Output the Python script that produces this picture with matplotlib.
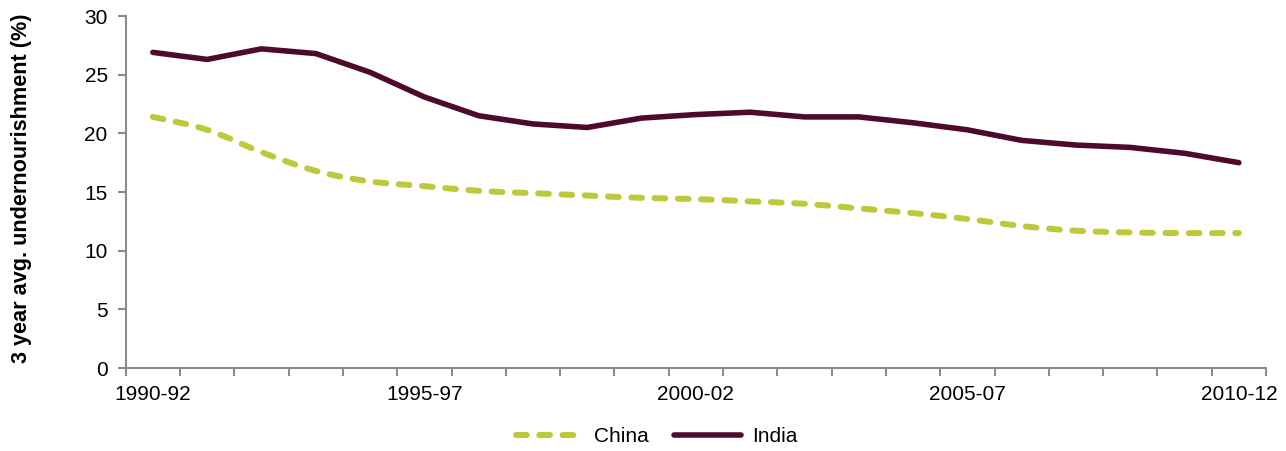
import numpy as np
import matplotlib
matplotlib.use("Agg")
import matplotlib.pyplot as plt
from matplotlib.path import Path
from matplotlib.patches import PathPatch
from matplotlib.lines import Line2D

plt.rcParams['font.family'] = ['Liberation Sans', 'DejaVu Sans']

periods = ["1990-92", "1991-93", "1992-94", "1993-95", "1994-96", "1995-97",
           "1996-98", "1997-99", "1998-00", "1999-01", "2000-02", "2001-03",
           "2002-04", "2003-05", "2004-06", "2005-07", "2006-08", "2007-09",
           "2008-10", "2009-11", "2010-12"]
china = [21.4, 20.3, 18.4, 16.8, 15.9, 15.5, 15.1, 14.9, 14.7, 14.5, 14.4,
         14.2, 14.0, 13.6, 13.2, 12.7, 12.1, 11.7, 11.55, 11.5, 11.5]
india = [26.9, 26.3, 27.2, 26.8, 25.2, 23.1, 21.5, 20.8, 20.5, 21.3, 21.6,
         21.8, 21.4, 21.4, 20.9, 20.3, 19.4, 19.0, 18.8, 18.3, 17.5]
labelled = ["1990-92", "1995-97", "2000-02", "2005-07", "2010-12"]
yticks = [0, 5, 10, 15, 20, 25, 30]

china_color = "#BDC83A"
india_color = "#4D0A2B"
axis_gray = "#8C8C8C"
fs = 15.0


def smooth_path(xs, ys):
    """Cubic Bezier path through the points (Catmull-Rom style smoothing)."""
    pts = np.column_stack([xs, ys]).astype(float)
    n = len(pts)
    verts = [pts[0]]
    codes = [Path.MOVETO]
    for i in range(n - 1):
        p0 = pts[i - 1] if i > 0 else pts[i]
        p1 = pts[i]
        p2 = pts[i + 1]
        p3 = pts[i + 2] if i + 2 < n else pts[i + 1]
        c1 = p1 + (p2 - p0) / 6.0
        c2 = p2 - (p3 - p1) / 6.0
        verts += [c1, c2, p2]
        codes += [Path.CURVE4] * 3
    return Path(verts, codes)


fig = plt.figure(figsize=(12.86, 4.51), dpi=100)
ax = fig.add_axes([125.7 / 1286, 1 - 368 / 451, (1266 - 125.7) / 1286, (368 - 16) / 451])

x = np.arange(len(periods))

# China: smoothed dashed line
china_patch = PathPatch(smooth_path(x, china), facecolor="none", edgecolor=china_color,
                        linewidth=4.3, linestyle=(0, (1.8, 2.1)), capstyle="round",
                        joinstyle="round")
ax.add_patch(china_patch)

# India: solid line
ax.plot(x, india, color=india_color, linewidth=4.0, solid_capstyle="round",
        solid_joinstyle="round")

ax.set_xlim(-0.5, len(periods) - 0.5)
ax.set_ylim(0, 30)
ax.set_yticks(yticks)
ax.set_yticklabels([str(v) for v in yticks])

# category boundary ticks with labels every five periods
ax.set_xticks(np.arange(-0.5, len(periods), 1.0), minor=True)
major_pos = [periods.index(p) for p in labelled]
ax.set_xticks(major_pos)
ax.set_xticklabels(labelled)
ax.tick_params(axis="x", which="major", length=0, pad=12, labelsize=fs, colors="black")
ax.tick_params(axis="x", which="minor", length=6, width=1.5, color=axis_gray, direction="out")
ax.tick_params(axis="y", length=6, width=1.5, color=axis_gray, direction="out",
               pad=7, labelsize=fs, labelcolor="black")

for side in ("top", "right"):
    ax.spines[side].set_visible(False)
for side in ("left", "bottom"):
    ax.spines[side].set_color(axis_gray)
    ax.spines[side].set_linewidth(1.5)

fig.text(22 / 1286, 1 - 188 / 451, "3 year avg. undernourishment (%)", rotation=90,
         ha="center", va="center", fontsize=15.6, fontweight="bold")

handles = [Line2D([], [], color=china_color, linewidth=4.3, linestyle=(0, (1.8, 2.1)),
                  dash_capstyle="round"),
           Line2D([], [], color=india_color, linewidth=4.0, solid_capstyle="round")]
fig.legend(handles, ["China", "India"], loc="center", bbox_to_anchor=(657 / 1286, 1 - 437 / 451),
           ncol=2, frameon=False, fontsize=fs, handlelength=3.2, handletextpad=0.55,
           columnspacing=1.2)

fig.savefig("out.png", dpi=100)
